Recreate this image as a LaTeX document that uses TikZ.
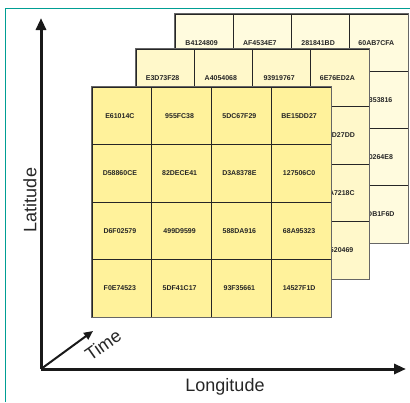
\documentclass[tikz,border=0pt]{standalone}
\usepackage{fontspec}
\setmainfont{Liberation Sans}
\usetikzlibrary{arrows.meta}
\definecolor{frameteal}{RGB}{0,158,148}
\definecolor{backfill}{RGB}{255,251,222}
\definecolor{midfill}{RGB}{255,248,202}
\definecolor{frontfill}{RGB}{255,242,155}
\begin{document}
\begin{tikzpicture}[x=1pt,y=-1pt,
  cell/.style={draw=black!85, line width=0.8pt, inner sep=0pt,
    font=\fontsize{7}{8}\selectfont\bfseries, text=black!85},
  layerframe/.style={draw=black!60, line width=1.4pt},
  axis/.style={line width=3pt, draw=black!90, -{Triangle[length=12pt,width=10pt]}},
  timeaxis/.style={line width=2pt, draw=black!90, -{Triangle[length=9pt,width=8pt]}},
  axislabel/.style={font=\fontsize{18}{20}\selectfont, text=black!85, inner sep=0pt}]
\path[use as bounding box] (0,0) rectangle (410,402);
% frame
\draw[frameteal, line width=1pt] (5,402) -- (5,8) -- (410,8);
% back layer
\foreach \t [count=\i from 0] in {B4124809,AF4534E7,281841BD,60AB7CFA,{},{},{},7E353816,{},{},{},1A0264E8,{},{},{},C7DB1F6D}{
  \pgfmathtruncatemacro\r{\i/4}
  \pgfmathtruncatemacro\c{mod(\i,4)}
  \node[cell, fill=backfill, minimum width=58.25pt, minimum height=57.25pt]
    (b-\r-\c) at ({175+(\c+0.5)*58.25},{14+(\r+0.5)*57.25}) {\kern-5pt\t};
}
\draw[layerframe] (b-0-0.north west) rectangle (b-3-3.south east);
% middle layer
\foreach \t [count=\i from 0] in {E3D73F28,A4054068,93919767,6E76ED2A,{},{},{},F48D27DD,{},{},{},3BA7218C,{},{},{},9E520469}{
  \pgfmathtruncatemacro\r{\i/4}
  \pgfmathtruncatemacro\c{mod(\i,4)}
  \node[cell, fill=midfill, minimum width=58.25pt, minimum height=57.5pt]
    (m-\r-\c) at ({136+(\c+0.5)*58.25},{49+(\r+0.5)*57.5}) {\kern-5pt\t};
}
\draw[layerframe] (m-0-0.north west) rectangle (m-3-3.south east);
% front layer
\foreach \t [count=\i from 0] in {E61014C,955FC38,5DC67F29,BE15DD27,D58860CE,82DECE41,D3A8378E,127506C0,D6F02579,499D9599,588DA916,68A95323,F0E74523,5DF41C17,93F35661,14527F1D}{
  \pgfmathtruncatemacro\r{\i/4}
  \pgfmathtruncatemacro\c{mod(\i,4)}
  \node[cell, fill=frontfill, minimum width=59.75pt, minimum height=57.5pt]
    (f-\r-\c) at ({92+(\c+0.5)*59.75},{87+(\r+0.5)*57.5}) {\kern-4pt\t};
}
\draw[layerframe] (f-0-0.north west) rectangle (f-3-3.south east);
% axes
\coordinate (O) at (41,369);
\coordinate (ytip) at (41,18);
\coordinate (xtip) at (406,369);
\coordinate (ttip) at (93,331);
\draw[axis] (O) -- (ytip);
\draw[axis] (O) -- (xtip);
\draw[timeaxis] (O) -- (ttip);
\node[axislabel, rotate=90] (lat) at (30,200) {Latitude};
\node[axislabel] (lon) at (225,387) {Longitude};
\node[axislabel, rotate=35] (time) at (103,345) {Time};
\end{tikzpicture}
\end{document}
